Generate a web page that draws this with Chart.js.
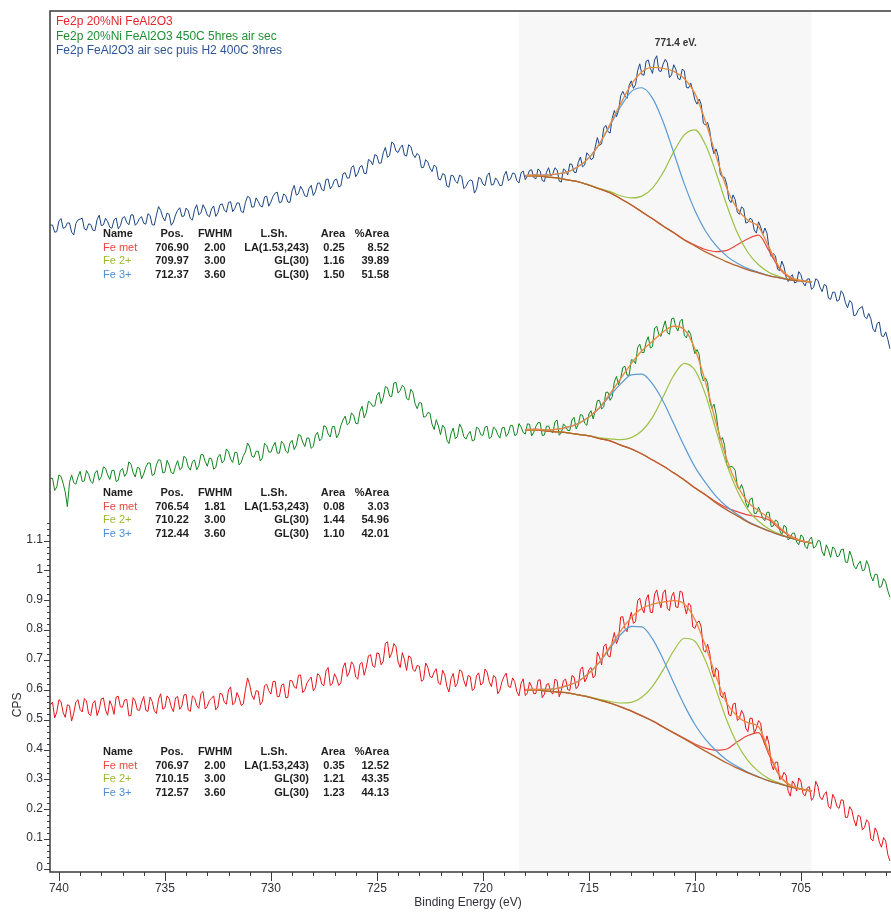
<!DOCTYPE html>
<html>
<head>
<meta charset="utf-8">
<title>Fe2p</title>
<script src="https://cdn.jsdelivr.net/npm/chart.js@4.4.1/dist/chart.umd.min.js"></script>
<style>
  html, body { margin: 0; padding: 0; background: #ffffff; }
  #wrap { width: 891px; height: 913px; }
</style>
</head>
<body>
<div id="wrap"><canvas id="xps" width="891" height="913"></canvas></div>
<script>
// ---- Scan settings (binding energy, eV) ----
const scanStart = 740.4;
const scanStep = 0.1;

// ---- Raw spectra (CPS, offset stacks), one value per scan step ----
const blueCounts = [
  2.157,2.157,2.133,2.135,2.170,2.179,2.146,2.149,2.164,2.164,2.133,2.124,2.162,2.174,2.177,2.180,2.144,2.140,2.161,2.159,
  2.140,2.138,2.175,2.190,2.155,2.158,2.180,2.168,2.150,2.146,2.174,2.181,2.144,2.155,2.181,2.185,2.166,2.158,2.191,2.191,
  2.156,2.164,2.179,2.185,2.163,2.160,2.195,2.189,2.158,2.157,2.190,2.219,2.206,2.183,2.171,2.197,2.193,2.156,2.167,2.191,
  2.206,2.215,2.186,2.187,2.214,2.205,2.179,2.174,2.209,2.225,2.191,2.198,2.225,2.211,2.190,2.185,2.211,2.221,2.186,2.198,
  2.225,2.228,2.208,2.200,2.233,2.235,2.202,2.213,2.231,2.231,2.202,2.199,2.233,2.253,2.249,2.217,2.218,2.248,2.236,2.221,
  2.218,2.251,2.254,2.220,2.234,2.253,2.264,2.267,2.232,2.234,2.261,2.256,2.234,2.233,2.272,2.290,2.257,2.262,2.287,2.274,
  2.255,2.252,2.280,2.290,2.256,2.269,2.297,2.298,2.276,2.272,2.310,2.311,2.278,2.289,2.308,2.311,2.285,2.288,2.328,2.333,
  2.314,2.315,2.350,2.356,2.319,2.330,2.352,2.356,2.330,2.330,2.377,2.372,2.359,2.393,2.389,2.364,2.365,2.399,2.417,2.384,
  2.390,2.435,2.429,2.405,2.400,2.416,2.425,2.391,2.388,2.426,2.420,2.394,2.383,2.397,2.389,2.349,2.350,2.376,2.368,2.348,
  2.336,2.358,2.352,2.311,2.308,2.329,2.326,2.288,2.284,2.324,2.322,2.304,2.297,2.324,2.320,2.279,2.286,2.301,2.308,2.305,
  2.264,2.277,2.316,2.313,2.294,2.289,2.323,2.332,2.291,2.293,2.315,2.305,2.289,2.290,2.323,2.337,2.306,2.311,2.331,2.330,
  2.306,2.298,2.332,2.338,2.309,2.321,2.340,2.342,2.316,2.312,2.345,2.338,2.306,2.303,2.334,2.349,2.321,2.329,2.349,2.342,
  2.304,2.301,2.345,2.339,2.325,2.362,2.360,2.334,2.333,2.367,2.385,2.352,2.358,2.399,2.390,2.376,2.381,2.419,2.450,2.424,
  2.429,2.482,2.491,2.470,2.465,2.514,2.541,2.520,2.540,2.590,2.605,2.589,2.581,2.625,2.640,2.615,2.627,2.674,2.697,2.661,
  2.659,2.706,2.710,2.682,2.665,2.710,2.724,2.674,2.671,2.696,2.712,2.701,2.651,2.660,2.694,2.679,2.648,2.644,2.679,2.674,
  2.618,2.616,2.633,2.608,2.576,2.562,2.579,2.561,2.498,2.492,2.501,2.473,2.422,2.396,2.412,2.387,2.327,2.318,2.317,2.294,
  2.243,2.232,2.258,2.242,2.201,2.193,2.218,2.212,2.164,2.166,2.180,2.175,2.140,2.130,2.168,2.151,2.126,2.147,2.130,2.078,
  2.052,2.061,2.054,2.009,2.004,2.036,2.018,1.983,1.968,1.983,1.991,1.963,1.966,2.001,1.991,1.964,1.953,1.976,1.977,1.942,
  1.948,1.977,1.972,1.949,1.934,1.958,1.954,1.912,1.908,1.932,1.932,1.902,1.906,1.937,1.926,1.897,1.880,1.904,1.898,1.853,
  1.856,1.872,1.880,1.884,1.850,1.843,1.861,1.843,1.809,1.799,1.828,1.832,1.786,1.783,1.799,1.774,1.743
];
const greenCounts = [
  1.308,1.309,1.268,1.280,1.320,1.315,1.292,1.262,1.214,1.295,1.320,1.294,1.289,1.314,1.332,1.298,1.300,1.335,1.322,1.298,
  1.292,1.326,1.335,1.302,1.314,1.347,1.342,1.320,1.305,1.335,1.335,1.298,1.302,1.335,1.342,1.315,1.326,1.364,1.356,1.328,
  1.313,1.345,1.343,1.307,1.323,1.346,1.360,1.360,1.318,1.322,1.354,1.371,1.369,1.327,1.329,1.369,1.353,1.328,1.324,1.349,
  1.368,1.338,1.343,1.383,1.375,1.347,1.336,1.365,1.370,1.337,1.350,1.388,1.388,1.365,1.349,1.377,1.374,1.339,1.345,1.380,
  1.389,1.360,1.369,1.407,1.398,1.373,1.362,1.396,1.395,1.353,1.362,1.384,1.397,1.427,1.414,1.383,1.379,1.399,1.400,1.367,
  1.377,1.426,1.419,1.397,1.396,1.416,1.429,1.393,1.393,1.433,1.425,1.400,1.393,1.427,1.436,1.405,1.419,1.455,1.452,1.430,
  1.415,1.444,1.443,1.409,1.416,1.453,1.463,1.434,1.442,1.485,1.481,1.457,1.447,1.482,1.482,1.444,1.457,1.485,1.504,1.517,
  1.488,1.494,1.528,1.520,1.493,1.491,1.533,1.550,1.511,1.528,1.567,1.562,1.550,1.551,1.587,1.597,1.559,1.579,1.616,1.612,
  1.584,1.583,1.628,1.630,1.594,1.603,1.620,1.613,1.576,1.571,1.607,1.596,1.559,1.542,1.562,1.561,1.514,1.515,1.529,1.527,
  1.490,1.472,1.505,1.484,1.455,1.487,1.477,1.437,1.425,1.460,1.477,1.441,1.449,1.491,1.477,1.448,1.440,1.456,1.466,1.434,
  1.437,1.480,1.475,1.455,1.452,1.480,1.483,1.442,1.447,1.480,1.474,1.455,1.443,1.477,1.480,1.449,1.460,1.486,1.486,1.452,
  1.456,1.492,1.481,1.462,1.457,1.491,1.490,1.451,1.463,1.483,1.495,1.495,1.452,1.454,1.483,1.484,1.467,1.461,1.498,1.504,
  1.453,1.461,1.491,1.483,1.469,1.469,1.504,1.513,1.474,1.489,1.522,1.520,1.493,1.486,1.524,1.535,1.508,1.535,1.569,1.570,
  1.541,1.548,1.597,1.597,1.570,1.582,1.632,1.650,1.622,1.644,1.680,1.684,1.654,1.654,1.706,1.704,1.693,1.747,1.758,1.730,
  1.730,1.766,1.783,1.745,1.750,1.812,1.818,1.790,1.784,1.813,1.836,1.796,1.791,1.843,1.846,1.815,1.802,1.834,1.842,1.788,
  1.779,1.804,1.791,1.755,1.726,1.740,1.724,1.659,1.635,1.645,1.629,1.567,1.543,1.557,1.524,1.473,1.436,1.445,1.419,1.355,
  1.343,1.349,1.346,1.335,1.282,1.271,1.288,1.267,1.227,1.211,1.238,1.243,1.191,1.191,1.212,1.196,1.174,1.167,1.195,1.195,
  1.147,1.149,1.169,1.164,1.134,1.120,1.151,1.146,1.102,1.110,1.125,1.125,1.095,1.086,1.119,1.113,1.080,1.073,1.103,1.112,
  1.075,1.081,1.100,1.099,1.063,1.049,1.086,1.069,1.044,1.079,1.071,1.046,1.049,1.070,1.072,1.028,1.027,1.065,1.046,1.015,
  1.005,1.021,1.031,0.999,1.002,1.033,1.015,0.981,0.965,0.988,0.986,0.943,0.946,0.973,0.961,0.932,0.910
];
const redCounts = [
  0.550,0.559,0.506,0.526,0.567,0.561,0.524,0.508,0.550,0.547,0.496,0.522,0.560,0.567,0.534,0.526,0.571,0.563,0.520,0.514,
  0.555,0.564,0.514,0.534,0.570,0.573,0.533,0.515,0.564,0.547,0.518,0.576,0.579,0.543,0.542,0.566,0.568,0.513,0.514,0.574,
  0.563,0.533,0.531,0.559,0.578,0.531,0.528,0.576,0.561,0.530,0.521,0.569,0.587,0.535,0.540,0.580,0.571,0.543,0.527,0.573,
  0.578,0.535,0.546,0.583,0.585,0.533,0.528,0.580,0.573,0.548,0.538,0.588,0.595,0.536,0.545,0.565,0.572,0.580,0.533,0.543,
  0.589,0.585,0.559,0.552,0.600,0.610,0.550,0.557,0.591,0.574,0.548,0.553,0.601,0.640,0.617,0.582,0.568,0.597,0.596,0.550,
  0.561,0.614,0.619,0.597,0.586,0.628,0.629,0.577,0.578,0.616,0.620,0.574,0.575,0.632,0.630,0.610,0.605,0.649,0.650,0.591,
  0.599,0.623,0.634,0.643,0.597,0.608,0.654,0.648,0.619,0.614,0.664,0.675,0.615,0.621,0.654,0.639,0.615,0.623,0.674,0.691,
  0.645,0.659,0.694,0.684,0.643,0.636,0.686,0.692,0.649,0.676,0.714,0.718,0.681,0.676,0.724,0.721,0.684,0.696,0.756,0.761,
  0.707,0.723,0.755,0.745,0.693,0.675,0.725,0.701,0.665,0.714,0.709,0.668,0.662,0.682,0.679,0.629,0.634,0.690,0.676,0.645,
  0.641,0.660,0.671,0.623,0.618,0.666,0.651,0.611,0.593,0.639,0.655,0.610,0.622,0.667,0.663,0.631,0.611,0.648,0.645,0.598,
  0.605,0.648,0.657,0.616,0.623,0.670,0.659,0.627,0.611,0.648,0.643,0.587,0.599,0.628,0.645,0.656,0.612,0.608,0.640,0.628,
  0.594,0.580,0.622,0.637,0.581,0.590,0.626,0.611,0.587,0.588,0.632,0.634,0.574,0.585,0.618,0.621,0.593,0.586,0.636,0.631,
  0.577,0.598,0.631,0.636,0.601,0.598,0.648,0.643,0.604,0.613,0.669,0.677,0.627,0.640,0.668,0.675,0.640,0.649,0.726,0.711,
  0.684,0.746,0.754,0.714,0.710,0.762,0.792,0.755,0.773,0.844,0.845,0.806,0.795,0.832,0.860,0.823,0.829,0.899,0.907,0.872,
  0.858,0.904,0.919,0.860,0.859,0.921,0.935,0.899,0.875,0.925,0.935,0.873,0.865,0.913,0.927,0.878,0.876,0.931,0.927,0.883,
  0.854,0.890,0.884,0.811,0.806,0.825,0.831,0.810,0.734,0.726,0.753,0.722,0.668,0.643,0.674,0.664,0.583,0.574,0.593,0.559,
  0.517,0.513,0.552,0.556,0.498,0.504,0.531,0.517,0.472,0.460,0.505,0.505,0.456,0.471,0.497,0.488,0.439,0.416,0.446,0.417,
  0.353,0.332,0.358,0.358,0.300,0.304,0.324,0.314,0.261,0.244,0.295,0.284,0.261,0.305,0.294,0.252,0.245,0.272,0.276,0.230,
  0.240,0.294,0.277,0.241,0.232,0.250,0.259,0.209,0.202,0.250,0.236,0.209,0.203,0.232,0.230,0.173,0.173,0.209,0.197,0.165,
  0.144,0.180,0.176,0.131,0.139,0.165,0.156,0.101,0.094,0.138,0.123,0.090,0.073,0.105,0.094,0.048,0.027
];

// ---- Fit region and fitted curves (background + component) ----
const fitRegion = [718.3, 704.5];
const fitEnergy = [718,717.5,717,716.5,716,715.5,715,714.5,714,713.5,713,712.5,712,711.5,
                   711,710.5,710,709.5,709,708.5,708,707.5,707,706.5,706,705.5,705,704.5];

const blueBackground = [2.322,2.322,2.318,2.315,2.308,2.302,2.291,2.278,2.265,2.245,2.224,2.201,2.178,2.154,
                        2.131,2.107,2.087,2.067,2.050,2.034,2.020,2.007,1.997,1.987,1.980,1.973,1.970,1.966];
const blueFe3 = [2.323,2.325,2.324,2.328,2.335,2.353,2.382,2.429,2.491,2.554,2.604,2.617,2.582,2.503,
                 2.400,2.295,2.206,2.137,2.088,2.053,2.029,2.011,1.999,1.988,1.980,1.973,1.970,1.966];
const blueFe2 = [2.322,2.322,2.318,2.315,2.308,2.302,2.291,2.279,2.269,2.255,2.248,2.254,2.281,2.333,
                 2.402,2.459,2.476,2.426,2.332,2.224,2.131,2.065,2.024,1.998,1.984,1.975,1.970,1.966];
const blueFeMet = [2.322,2.322,2.318,2.315,2.308,2.302,2.291,2.278,2.265,2.245,2.224,2.201,2.178,2.154,
                   2.132,2.108,2.090,2.075,2.068,2.072,2.091,2.111,2.123,2.070,2.010,1.980,1.971,1.966];
const blueEnvelope = [2.323,2.325,2.324,2.328,2.335,2.353,2.382,2.430,2.495,2.564,2.628,2.670,2.685,2.682,
                      2.672,2.648,2.598,2.504,2.388,2.281,2.211,2.173,2.152,2.082,2.014,1.982,1.971,1.966];

const greenBackground = [1.471,1.471,1.467,1.464,1.461,1.456,1.451,1.442,1.434,1.420,1.407,1.390,1.370,1.350,
                         1.327,1.303,1.276,1.253,1.226,1.203,1.183,1.162,1.146,1.132,1.119,1.109,1.099,1.092];
const greenFe3 = [1.472,1.473,1.471,1.473,1.480,1.492,1.514,1.544,1.586,1.625,1.655,1.658,1.625,1.567,
                  1.492,1.416,1.347,1.294,1.248,1.214,1.188,1.164,1.147,1.132,1.119,1.109,1.099,1.092];
const greenFe2 = [1.471,1.471,1.467,1.464,1.461,1.456,1.452,1.444,1.441,1.438,1.445,1.468,1.513,1.582,
                  1.653,1.694,1.671,1.589,1.469,1.355,1.267,1.203,1.165,1.139,1.122,1.110,1.099,1.092];
const greenFeMet = [1.471,1.471,1.467,1.464,1.461,1.456,1.451,1.442,1.434,1.420,1.407,1.390,1.370,1.350,
                    1.327,1.303,1.277,1.254,1.229,1.210,1.197,1.186,1.180,1.169,1.139,1.115,1.100,1.092];
const greenEnvelope = [1.472,1.473,1.471,1.473,1.480,1.492,1.514,1.546,1.593,1.643,1.693,1.736,1.768,1.799,
                       1.818,1.807,1.742,1.631,1.494,1.373,1.286,1.229,1.200,1.176,1.144,1.115,1.100,1.092];

const redBackground = [0.600,0.600,0.596,0.593,0.590,0.583,0.576,0.566,0.556,0.543,0.529,0.513,0.496,0.476,
                       0.456,0.436,0.415,0.395,0.375,0.355,0.338,0.322,0.308,0.295,0.285,0.275,0.268,0.261];
const redFe3 = [0.601,0.602,0.602,0.605,0.615,0.629,0.656,0.692,0.740,0.785,0.813,0.811,0.771,0.703,
                0.624,0.549,0.484,0.434,0.396,0.365,0.343,0.324,0.309,0.295,0.285,0.275,0.268,0.261];
const redFe2 = [0.600,0.600,0.596,0.593,0.590,0.583,0.577,0.568,0.561,0.556,0.558,0.575,0.612,0.667,
                0.731,0.773,0.763,0.698,0.600,0.499,0.419,0.363,0.327,0.302,0.288,0.276,0.268,0.261];
const redFeMet = [0.600,0.600,0.596,0.593,0.590,0.583,0.576,0.566,0.556,0.543,0.529,0.513,0.496,0.476,
                  0.456,0.438,0.419,0.405,0.398,0.402,0.426,0.447,0.457,0.382,0.311,0.280,0.268,0.261];
const redEnvelope = [0.601,0.602,0.602,0.605,0.615,0.629,0.656,0.694,0.745,0.798,0.842,0.873,0.887,0.894,
                     0.899,0.888,0.836,0.747,0.644,0.556,0.512,0.490,0.477,0.390,0.314,0.281,0.268,0.261];

// ---- Quantification tables ----
const componentNames = ['Fe met', 'Fe 2+', 'Fe 3+'];
const lineShapes = ['LA(1.53,243)', 'GL(30)', 'GL(30)'];
const bluePos = ['706.90', '709.97', '712.37'];
const blueFwhm = ['2.00', '3.00', '3.60'];
const blueArea = ['0.25', '1.16', '1.50'];
const bluePct = ['8.52', '39.89', '51.58'];
const greenPos = ['706.54', '710.22', '712.44'];
const greenFwhm = ['1.81', '3.00', '3.60'];
const greenArea = ['0.08', '1.44', '1.10'];
const greenPct = ['3.03', '54.96', '42.01'];
const redPos = ['706.97', '710.15', '712.57'];
const redFwhm = ['2.00', '3.00', '3.60'];
const redArea = ['0.35', '1.21', '1.23'];
const redPct = ['12.52', '43.35', '44.13'];

// ---- Axis ticks and captions ----
const xTickLabels = [740, 735, 730, 725, 720, 715, 710, 705];
const yTickLabels = [0, 0.1, 0.2, 0.3, 0.4, 0.5, 0.6, 0.7, 0.8, 0.9, 1, 1.1];
const legendTitles = ['Fe2p 20%Ni FeAl2O3', 'Fe2p 20%Ni FeAl2O3 450C 5hres air sec', 'Fe2p FeAl2O3 air sec puis H2 400C 3hres'];
const peakNote = '771.4 eV.';
const peakNoteEnergy = 710.9;
const xTitle = 'Binding Energy (eV)';
const yTitle = 'CPS';

// ---- Colours ----
const COL = {
  red: '#e8141c', green: '#10871f', blue: '#1b4584',
  legendRed: '#e3262c', legendGreen: '#1f8f34', legendBlue: '#2d5596',
  fe3: '#5b9bd5', fe2: '#9cc243', feMet: '#e8473b', bg: '#b8632c', env: '#e98a3c',
  axis: '#3a3a3a', text: '#2f3038'
};
const FONT = '"Liberation Sans", Arial, sans-serif';

const scanEnergy = blueCounts.map((_, i) => +(scanStart - i * scanStep).toFixed(1));
const pts = (xs, ys) => ys.map((y, i) => ({ x: xs[i], y }));

function spectrumSets(counts, color, bg, fe3, fe2, feMet, env) {
  return [
    { data: pts(scanEnergy, counts), borderColor: color, borderWidth: 1, order: 3, tension: 0 },
    { data: pts(fitEnergy, bg), borderColor: COL.bg, borderWidth: 1.3, order: 1, cubicInterpolationMode: 'monotone' },
    { data: pts(fitEnergy, fe3), borderColor: COL.fe3, borderWidth: 1.2, order: 2, cubicInterpolationMode: 'monotone' },
    { data: pts(fitEnergy, fe2), borderColor: COL.fe2, borderWidth: 1.2, order: 2, cubicInterpolationMode: 'monotone' },
    { data: pts(fitEnergy, feMet), borderColor: COL.feMet, borderWidth: 1.2, order: 2, cubicInterpolationMode: 'monotone' },
    { data: pts(fitEnergy, env), borderColor: COL.env, borderWidth: 1.3, order: 0, cubicInterpolationMode: 'monotone' }
  ];
}

const datasets = [
  ...spectrumSets(blueCounts, COL.blue, blueBackground, blueFe3, blueFe2, blueFeMet, blueEnvelope),
  ...spectrumSets(greenCounts, COL.green, greenBackground, greenFe3, greenFe2, greenFeMet, greenEnvelope),
  ...spectrumSets(redCounts, COL.red, redBackground, redFe3, redFe2, redFeMet, redEnvelope)
];

// Quantification table beneath each spectrum, anchored to the y value of its header row
const tables = [
  { y: 2.126, pos: bluePos, fwhm: blueFwhm, area: blueArea, pct: bluePct },
  { y: 1.258, pos: greenPos, fwhm: greenFwhm, area: greenArea, pct: greenPct },
  { y: 0.391, pos: redPos, fwhm: redFwhm, area: redArea, pct: redPct }
];
const rowColors = [COL.feMet, '#9aba2e', '#4a8ed8'];

const decor = {
  id: 'decor',
  beforeDatasetsDraw(chart) {
    const { ctx, chartArea: a, scales: { x } } = chart;
    const x1 = x.getPixelForValue(fitRegion[0]);
    const x2 = x.getPixelForValue(fitRegion[1]);
    ctx.save();
    ctx.fillStyle = '#f7f7f7';
    ctx.fillRect(Math.min(x1, x2), a.top, Math.abs(x2 - x1), a.bottom - a.top);
    ctx.restore();
  },
  afterDatasetsDraw(chart) {
    const { ctx, chartArea: a, scales: { x, y } } = chart;
    ctx.save();

    // frame and axes
    ctx.strokeStyle = COL.axis;
    ctx.lineWidth = 1.5;
    ctx.beginPath();
    ctx.moveTo(a.right, a.top); ctx.lineTo(a.left, a.top);
    ctx.lineTo(a.left, a.bottom); ctx.lineTo(a.right, a.bottom);
    ctx.stroke();

    // x ticks every 1 eV, long ones every 5 eV
    ctx.lineWidth = 1;
    ctx.beginPath();
    for (let e = 741; e >= 700; e--) {
      const px = Math.round(x.getPixelForValue(e)) + 0.5;
      if (px < a.left || px > a.right) continue;
      const len = e % 5 === 0 ? 9 : 4;
      ctx.moveTo(px, a.bottom); ctx.lineTo(px, a.bottom + len);
    }
    ctx.stroke();

    // y ticks every 0.02, long ones every 0.1
    ctx.beginPath();
    for (let k = 0; k <= 58; k++) {
      const v = k * 0.02;
      const py = Math.round(y.getPixelForValue(v)) + 0.5;
      const len = k % 5 === 0 ? 6 : 3;
      ctx.moveTo(a.left, py); ctx.lineTo(a.left - len, py);
    }
    ctx.stroke();

    ctx.fillStyle = COL.text;
    ctx.font = '12px ' + FONT;
    ctx.textAlign = 'center';
    ctx.textBaseline = 'middle';
    xTickLabels.forEach(v => ctx.fillText(String(v), x.getPixelForValue(v), 889));
    ctx.textAlign = 'right';
    yTickLabels.forEach(v => ctx.fillText(String(v), a.left - 7, y.getPixelForValue(v) - 1));

    // axis titles
    ctx.textAlign = 'center';
    ctx.fillText(xTitle, 468, 903);
    ctx.save();
    ctx.translate(18, y.getPixelForValue(0.55));
    ctx.rotate(-Math.PI / 2);
    ctx.fillText(yTitle, 0, 0);
    ctx.restore();

    // legend
    ctx.textAlign = 'left';
    const legendColors = [COL.legendRed, COL.legendGreen, COL.legendBlue];
    legendTitles.forEach((t, i) => {
      ctx.fillStyle = legendColors[i];
      ctx.fillText(t, 56, 22 + i * 14.5);
    });

    // peak note
    ctx.fillStyle = '#333333';
    ctx.font = 'bold 10px ' + FONT;
    ctx.textAlign = 'center';
    ctx.fillText(peakNote, x.getPixelForValue(peakNoteEnergy), 43);

    // quantification tables
    ctx.font = 'bold 11px ' + FONT;
    tables.forEach(t => {
      const top = y.getPixelForValue(t.y);
      ctx.fillStyle = '#1e1e1e';
      ctx.textAlign = 'left'; ctx.fillText('Name', 103, top);
      ctx.textAlign = 'center';
      ctx.fillText('Pos.', 172, top);
      ctx.fillText('FWHM', 215, top);
      ctx.fillText('L.Sh.', 274, top);
      ctx.fillText('Area', 333, top);
      ctx.textAlign = 'right'; ctx.fillText('%Area', 389, top);
      for (let r = 0; r < 3; r++) {
        const ry = top + 13.4 * (r + 1);
        ctx.fillStyle = rowColors[r];
        ctx.textAlign = 'left'; ctx.font = '11px ' + FONT;
        ctx.fillText(componentNames[r], 103, ry);
        ctx.font = 'bold 11px ' + FONT;
        ctx.fillStyle = '#1e1e1e';
        ctx.textAlign = 'center';
        ctx.fillText(t.pos[r], 172, ry);
        ctx.fillText(t.fwhm[r], 215, ry);
        ctx.textAlign = 'right';
        ctx.fillText(lineShapes[r], 309, ry);
        ctx.textAlign = 'center';
        ctx.fillText(t.area[r], 334, ry);
        ctx.textAlign = 'right';
        ctx.fillText(t.pct[r], 389, ry);
      }
    });
    ctx.restore();
  }
};

new Chart(document.getElementById('xps'), {
  type: 'line',
  data: { datasets },
  options: {
    responsive: false,
    animation: false,
    events: [],
    layout: { padding: { left: 50, top: 11, right: 0, bottom: 41 } },
    plugins: { legend: { display: false }, tooltip: { enabled: false } },
    elements: { point: { radius: 0 }, line: { fill: false } },
    scales: {
      x: { type: 'linear', reverse: true, min: 700.75, max: 740.42, display: false },
      y: { type: 'linear', min: -0.01, max: 2.874, display: false }
    }
  },
  plugins: [decor]
});
</script>
</body>
</html>
